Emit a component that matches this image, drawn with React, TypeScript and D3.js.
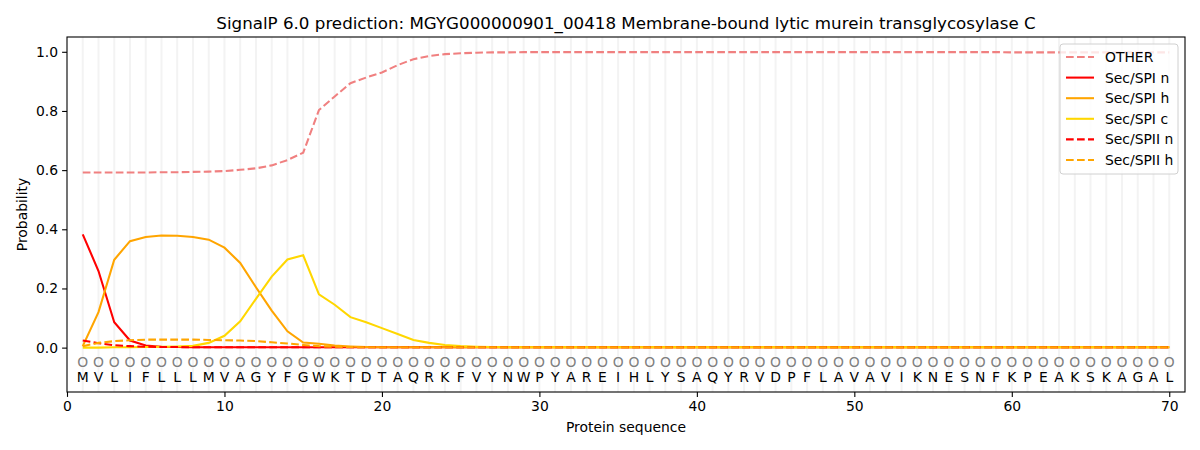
// @ts-nocheck
import React, { useEffect, useRef } from "react";
import * as d3 from "d3";

const sequence = "MVLIFLLLMVAGYFGWKTDTAQRKFVYNWPYAREIHLYSAQYRVDPFLAVAVIKNESNFKPEAKSKAGAL".split("");

const otherProb = [
  0.592, 0.592, 0.592, 0.592, 0.592, 0.593, 0.593, 0.594, 0.595, 0.597,
  0.601, 0.606, 0.616, 0.634, 0.659, 0.803, 0.849, 0.894, 0.913, 0.93,
  0.955, 0.975, 0.986, 0.992, 0.995, 0.997, 0.998, 0.998, 0.999, 0.999,
  0.999, 0.999, 0.999, 0.999, 0.999, 0.999, 0.999, 0.999, 0.999, 0.999,
  0.999, 0.999, 0.999, 0.999, 0.999, 0.999, 0.999, 0.999, 0.999, 0.999,
  0.999, 0.999, 0.999, 0.999, 0.999, 0.999, 0.999, 0.999, 0.999, 0.998,
  0.998, 0.998, 0.998, 0.998, 0.998, 0.998, 0.998, 0.998, 0.998, 0.998,
];
const spiN = [
  0.383, 0.259, 0.086, 0.024, 0.007, 0.003, 0.002, 0.001, 0.001, 0.001,
  ...Array(60).fill(0.001),
];
const spiH = [
  0.005, 0.12, 0.297, 0.36, 0.374, 0.379, 0.378, 0.374, 0.365, 0.338,
  0.286, 0.204, 0.125, 0.055, 0.017, 0.013, 0.007, 0.004, 0.002, 0.001,
  ...Array(50).fill(0.001),
];
const spiC = [
  0.0, 0.0, 0.001, 0.001, 0.002, 0.003, 0.004, 0.006, 0.016, 0.04,
  0.089, 0.165, 0.24, 0.298, 0.312, 0.18, 0.145, 0.103, 0.086, 0.066,
  0.046, 0.026, 0.016, 0.009, 0.005, 0.003, 0.002, 0.001, 0.001, 0.001,
  ...Array(40).fill(0.001),
];
const spiiN = [
  0.024, 0.015, 0.008, 0.005, 0.003, 0.002, 0.002, 0.001, 0.001, 0.001,
  ...Array(60).fill(0.001),
];
const spiiH = [
  0.005, 0.016, 0.022, 0.025, 0.027, 0.027, 0.027, 0.027, 0.026, 0.025,
  0.024, 0.022, 0.018, 0.014, 0.009, 0.005, 0.003, 0.002, 0.001, 0.001,
  ...Array(50).fill(0.001),
];

const series = [
  { name: "OTHER", values: otherProb, color: "#f08080", dashed: true },
  { name: "Sec/SPI n", values: spiN, color: "#ff0000", dashed: false },
  { name: "Sec/SPI h", values: spiH, color: "#ffa500", dashed: false },
  { name: "Sec/SPI c", values: spiC, color: "#ffd700", dashed: false },
  { name: "Sec/SPII n", values: spiiN, color: "#ff0000", dashed: true },
  { name: "Sec/SPII h", values: spiiH, color: "#ffa500", dashed: true },
];

const xTicks = [0, 10, 20, 30, 40, 50, 60, 70];
const yTicks = [0, 0.2, 0.4, 0.6, 0.8, 1.0];

const Chart = () => {
  const svgRef = useRef();

  useEffect(() => {
    const W = 1200;
    const H = 450;
    const margin = { top: 37, right: 15, bottom: 58, left: 67 };
    const width = W - margin.left - margin.right;
    const height = H - margin.top - margin.bottom;
    const font = "DejaVu Sans, sans-serif";

    d3.select(svgRef.current).selectAll("*").remove();

    const root = d3.select(svgRef.current).attr("width", W).attr("height", H);
    root.append("rect").attr("width", W).attr("height", H).attr("fill", "white");

    const svg = root
      .append("g")
      .attr("transform", `translate(${margin.left},${margin.top})`);

    const x = d3.scaleLinear().domain([0, 71]).range([0, width]);
    const y = d3.scaleLinear().domain([-0.15, 1.05]).range([height, 0]);

    const positions = sequence.map((_, i) => i + 1);

    // light vertical grid at every residue
    svg
      .selectAll(".vgrid")
      .data(positions)
      .enter()
      .append("line")
      .attr("x1", (d) => x(d))
      .attr("x2", (d) => x(d))
      .attr("y1", 0)
      .attr("y2", height)
      .attr("stroke", "#f3f3f3")
      .attr("stroke-width", 2);

    const line = d3
      .line()
      .x((d, i) => x(i + 1))
      .y((d) => y(d));

    series.forEach((s) => {
      svg
        .append("path")
        .datum(s.values)
        .attr("d", line)
        .attr("fill", "none")
        .attr("stroke", s.color)
        .attr("stroke-width", 2.08)
        .attr("stroke-dasharray", s.dashed ? "7.7,3.3" : null);
    });

    // per-residue labels
    svg
      .selectAll(".olab")
      .data(positions)
      .enter()
      .append("text")
      .attr("x", (d) => x(d))
      .attr("y", y(-0.047))
      .attr("dy", "0.36em")
      .attr("text-anchor", "middle")
      .style("font-family", font)
      .style("font-size", "13.9px")
      .style("fill", "#808080")
      .text("O");

    svg
      .selectAll(".aa")
      .data(sequence)
      .enter()
      .append("text")
      .attr("x", (d, i) => x(i + 1))
      .attr("y", y(-0.1))
      .attr("dy", "0.36em")
      .attr("text-anchor", "middle")
      .style("font-family", font)
      .style("font-size", "13.9px")
      .style("fill", "#000")
      .text((d) => d);

    // axes
    const xAxis = svg
      .append("g")
      .attr("transform", `translate(0,${height})`)
      .call(d3.axisBottom(x).tickValues(xTicks).tickFormat(d3.format("d")).tickSizeOuter(0).tickSize(4.9).tickPadding(4));
    const yAxis = svg
      .append("g")
      .call(d3.axisLeft(y).tickValues(yTicks).tickFormat(d3.format(".1f")).tickSizeOuter(0).tickSize(4.9).tickPadding(4));
    [xAxis, yAxis].forEach((a) => {
      a.select(".domain").remove();
      a.selectAll("line").attr("stroke", "#000").attr("stroke-width", 1.1);
      a.selectAll("text")
        .style("font-family", font)
        .style("font-size", "13.9px")
        .style("fill", "#000");
    });

    // frame
    svg
      .append("rect")
      .attr("width", width)
      .attr("height", height)
      .attr("fill", "none")
      .attr("stroke", "#000")
      .attr("stroke-width", 1.1);

    // title and axis labels
    root
      .append("text")
      .attr("x", margin.left + width / 2)
      .attr("y", 29)
      .attr("text-anchor", "middle")
      .style("font-family", font)
      .style("font-size", "16.7px")
      .text("SignalP 6.0 prediction: MGYG000000901_00418 Membrane-bound lytic murein transglycosylase C");

    root
      .append("text")
      .attr("x", margin.left + width / 2)
      .attr("y", 432)
      .attr("text-anchor", "middle")
      .style("font-family", font)
      .style("font-size", "13.9px")
      .text("Protein sequence");

    root
      .append("text")
      .attr("transform", `translate(27,${margin.top + height / 2}) rotate(-90)`)
      .attr("text-anchor", "middle")
      .style("font-family", font)
      .style("font-size", "13.9px")
      .text("Probability");

    // legend
    const lg = root.append("g").attr("transform", "translate(1060,44)");
    lg.append("rect")
      .attr("width", 118)
      .attr("height", 130)
      .attr("rx", 3)
      .attr("fill", "white")
      .attr("fill-opacity", 0.8)
      .attr("stroke", "#d0d0d0")
      .attr("stroke-width", 1);
    series.forEach((s, i) => {
      const ly = 13 + i * 20.6;
      lg.append("line")
        .attr("x1", 6)
        .attr("x2", 34)
        .attr("y1", ly)
        .attr("y2", ly)
        .attr("stroke", s.color)
        .attr("stroke-width", 2.08)
        .attr("stroke-dasharray", s.dashed ? "7.7,3.3" : null);
      lg.append("text")
        .attr("x", 45)
        .attr("y", ly)
        .attr("dy", "0.36em")
        .style("font-family", font)
        .style("font-size", "13.9px")
        .text(s.name);
    });
  }, []);

  return <svg ref={svgRef} style={{ position: "absolute", left: 0, top: 0 }}></svg>;
};

export default function App() {
  return <Chart />;
}
